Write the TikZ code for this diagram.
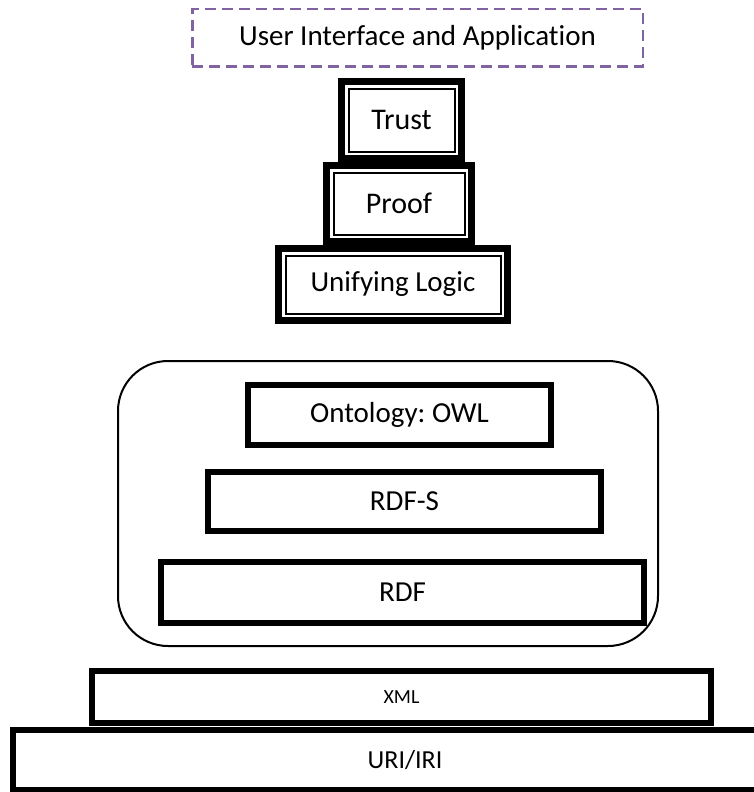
\documentclass[tikz,border=0pt]{standalone}
\usepackage{fontspec}
\setmainfont[Ligatures=NoCommon]{Carlito}
\definecolor{uipurple}{HTML}{8064A2}
\begin{document}
\frenchspacing
\begin{tikzpicture}[x=1pt,y=1pt,
  every node/.style={inner sep=0pt, outer sep=0pt, font=\fontsize{29}{34}\selectfont},
  heavy/.style={draw=black, line width=6pt, fill=white},
  dbl/.style={draw=black, line width=7pt, fill=white},
  thinline/.style={draw=black, line width=2pt},
  uibox/.style={draw=uipurple, line width=2.5pt, dash pattern=on 11pt off 6pt},
  container/.style={draw=black, line width=2pt, rounded corners=50pt}]
\useasboundingbox (0,0) rectangle (754,-792);

% user interface
\node[uibox, minimum width=450.5pt, minimum height=57.5pt] (ui) at (417.5,-38) {User Interface and Application};

% trust / proof / unifying logic
\node[dbl, minimum width=120pt, minimum height=77pt, font=\fontsize{30}{35}\selectfont] (trust) at (401.5,-120) {Trust};
\draw[thinline] ([xshift=7pt,yshift=-7pt]trust.north west) rectangle ([xshift=-7pt,yshift=7pt]trust.south east);
\node[dbl, minimum width=145pt, minimum height=76pt, font=\fontsize{30}{35}\selectfont] (proof) at (399,-203.5) {Proof};
\draw[thinline] ([xshift=7pt,yshift=-7pt]proof.north west) rectangle ([xshift=-7pt,yshift=7pt]proof.south east);
\node[dbl, minimum width=229pt, minimum height=72pt] (logic) at (393,-284.5) {Unifying Logic};
\draw[thinline] ([xshift=7pt,yshift=-7pt]logic.north west) rectangle ([xshift=-7pt,yshift=7pt]logic.south east);

% container
\node[container, minimum width=540pt, minimum height=285pt] (group) at (388,-503.5) {};
\node[heavy, minimum width=303pt, minimum height=60pt] (owl) at (399.5,-415) {Ontology: OWL};
\node[heavy, minimum width=393pt, minimum height=59pt] (rdfs) at (404.5,-501.5) {RDF-S};
\node[heavy, minimum width=483pt, minimum height=61pt] (rdf) at (402.5,-592.5) {RDF};

% bottom layers
\node[heavy, minimum width=619pt, minimum height=52pt, font=\fontsize{20}{24}\selectfont] (xml) at (401.5,-697) {XML};
\node[heavy, minimum width=784pt, minimum height=60pt, font=\fontsize{26}{30}\selectfont] (uri) at (405,-760) {URI/IRI};
\end{tikzpicture}
\end{document}
